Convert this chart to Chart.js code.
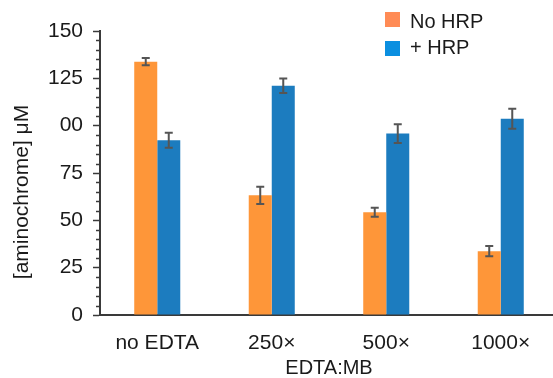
<!DOCTYPE html>
<html>
<head>
<meta charset="utf-8">
<script src="https://cdn.jsdelivr.net/npm/chart.js@4.4.1/dist/chart.umd.min.js"></script>
<style>
  html, body { margin: 0; padding: 0; background: #fff; overflow: hidden; }
  #wrap { position: relative; width: 560px; height: 378px; }
</style>
</head>
<body>
<div id="wrap"><canvas id="chart"></canvas></div>
<script>
const categories = ['no EDTA', '250×', '500×', '1000×'];
const noHrp = [133.8, 63.2, 54.3, 33.7];
const noHrpErr = [1.9, 4.6, 2.4, 2.7];
const plusHrp = [92.3, 121.1, 95.8, 103.7];
const plusHrpErr = [4.0, 3.8, 4.9, 5.3];
const yTickLabels = ['0', '25', '50', '75', '00', '125', '150'];

const FONT = '"Liberation Sans", Arial, sans-serif';
const TEXT = '#1a1a1a';
const AXIS = '#3a3a3a';
const errors = [noHrpErr, plusHrpErr];
const legendColors = ['#ff8b55', '#0b8fe0'];

// error bars, from the bar elements and the y scale
const errorBars = {
    id: 'errorBars',
    afterDatasetsDraw(chart) {
        const ctx = chart.ctx;
        const y = chart.scales.y;
        ctx.save();
        ctx.strokeStyle = '#555';
        ctx.lineWidth = 2;
        chart.data.datasets.forEach((ds, i) => {
            chart.getDatasetMeta(i).data.forEach((bar, j) => {
                const v = ds.data[j], e = errors[i][j];
                const top = y.getPixelForValue(v + e);
                const bot = y.getPixelForValue(v - e);
                ctx.beginPath();
                ctx.moveTo(bar.x, top); ctx.lineTo(bar.x, bot);
                ctx.moveTo(bar.x - 4, top); ctx.lineTo(bar.x + 4, top);
                ctx.moveTo(bar.x - 4, bot); ctx.lineTo(bar.x + 4, bot);
                ctx.stroke();
            });
        });
        ctx.restore();
    }
};

// short minor ticks, legend and the y title
const extras = {
    id: 'extras',
    afterDraw(chart) {
        const ctx = chart.ctx;
        const y = chart.scales.y;
        const ax = chart.chartArea.left;
        ctx.save();
        ctx.strokeStyle = AXIS;
        ctx.lineWidth = 1.5;
        y.ticks.forEach(t => {
            if (t.value % 25 !== 0) {
                const py = Math.round(y.getPixelForValue(t.value)) + 0.5;
                ctx.beginPath();
                ctx.moveTo(ax - 4, py); ctx.lineTo(ax, py);
                ctx.stroke();
            }
        });

        ctx.font = '20px ' + FONT;
        ctx.textBaseline = 'middle';
        ctx.textAlign = 'left';
        chart.data.datasets.forEach((ds, i) => {
            ctx.fillStyle = legendColors[i];
            ctx.fillRect(385, 12 + i * 29, 15, 15);
            ctx.fillStyle = TEXT;
            ctx.fillText(ds.label, 410, 22 + i * 26.5);
        });

        ctx.translate(22, 192);
        ctx.rotate(-Math.PI / 2);
        ctx.textAlign = 'center';
        ctx.font = '21px ' + FONT;
        ctx.fillText('[aminochrome] μM', 0, 0);
        ctx.restore();
    }
};

new Chart(document.getElementById('chart'), {
    type: 'bar',
    data: {
        labels: categories,
        datasets: [{
            label: 'No HRP',
            data: noHrp,
            backgroundColor: '#fe9639'
        }, {
            label: '+ HRP',
            data: plusHrp,
            backgroundColor: '#1c7cbf'
        }]
    },
    options: {
        responsive: true,
        maintainAspectRatio: false,
        animation: false,
        layout: { padding: { top: 31, right: 2, left: 0, bottom: 0 } },
        datasets: { bar: { categoryPercentage: 0.402, barPercentage: 1.0 } },
        plugins: {
            legend: { display: false },
            tooltip: { enabled: false }
        },
        scales: {
            x: {
                grid: { display: false },
                border: { display: true, color: AXIS, width: 2 },
                ticks: { color: TEXT, font: { family: FONT, size: 21 }, padding: 8, maxRotation: 0 },
                title: {
                    display: true, text: 'EDTA:MB', color: TEXT,
                    font: { family: FONT, size: 20, lineHeight: 1.0 }, padding: 0
                },
                afterFit(scale) { scale.height = 63; }
            },
            y: {
                min: 0,
                max: 150,
                grid: {
                    drawOnChartArea: false,
                    tickLength: 7,
                    tickWidth: 1.5,
                    tickColor: c => (c.tick && c.tick.value % 25 === 0) ? AXIS : 'rgba(0,0,0,0)'
                },
                border: { display: true, color: AXIS, width: 2 },
                ticks: {
                    stepSize: 5,
                    maxTicksLimit: 100,
                    autoSkip: false,
                    padding: 10,
                    color: TEXT,
                    font: { family: FONT, size: 21 },
                    callback: v => (v % 25 === 0 ? yTickLabels[v / 25] : '')
                },
                afterFit(scale) { scale.width = 100; }
            }
        }
    },
    plugins: [errorBars, extras]
});
</script>
</body>
</html>
